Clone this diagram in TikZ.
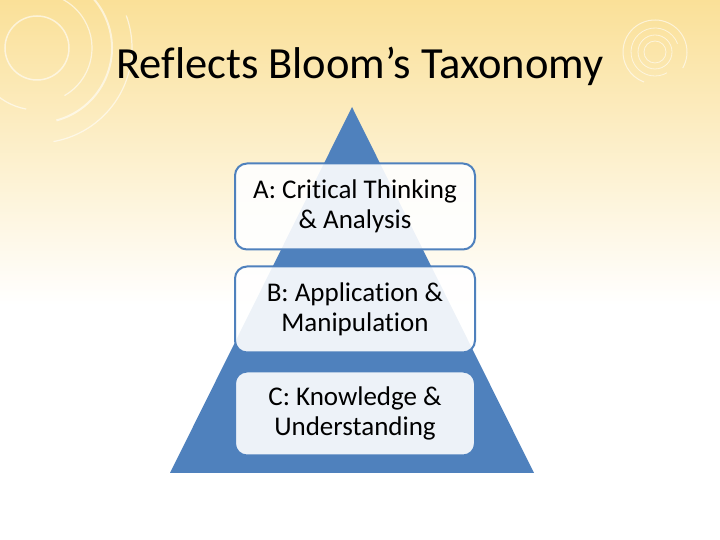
\documentclass[tikz,border=0pt]{standalone}
\usepackage{fontspec}
\setmainfont{Carlito}[Ligatures=NoCommon]
\usepackage{tikz}
\usetikzlibrary{positioning}

\definecolor{slideyellow}{RGB}{250,224,152}
\definecolor{paleyellow}{RGB}{253,240,204}
\definecolor{pyramidblue}{RGB}{79,129,189}

\begin{document}
\begin{tikzpicture}[x=1pt, y=1pt]
    \useasboundingbox (0,0) rectangle (720,540);

    % Background
    \fill[white] (0,0) rectangle (720,540);
    \shade[top color=slideyellow, middle color=paleyellow, bottom color=white] (0,235) rectangle (720,540);

    % Rings top left
    \begin{scope}[white, opacity=0.6]
        \draw[line width=1.5pt] (37,492) circle (32);
        \draw[line width=1.2pt] (37,492) ++(-60:55) arc (-60:80:55);
        \draw[line width=2pt] (37,492) ++(-75:75) arc (-75:60:75);
        \draw[line width=1.2pt] (37,492) ++(-80:95) arc (-80:20:95);
        \draw[line width=1.2pt] (37,492) ++(160:62) arc (160:260:62);
    \end{scope}

    % Rings top right
    \begin{scope}[white, opacity=0.6]
        \draw[line width=0.8pt] (655,488) circle (11);
        \draw[line width=0.8pt] (655,488) circle (17);
        \draw[line width=0.8pt] (655,488) ++(20:24) arc (20:300:24);
        \draw[line width=1pt] (655,488) ++(-30:32) arc (-30:250:32);
    \end{scope}

    % Title
    \node[anchor=base, font=\fontsize{44.5}{52}\selectfont] (title) at (360,461) {Reflects Bloom’s Taxonomy};

    % Pyramid
    \fill[pyramidblue] (352,433) -- (534,67) -- (170,67) -- cycle;

    % Levels
    \tikzset{level/.style={draw=pyramidblue, line width=2pt, rounded corners=12pt,
        fill=white, fill opacity=0.9, text opacity=1, align=center,
        minimum width=240, minimum height=86,
        font=\fontsize{27}{30}\selectfont}}
    \node[level] (critical) at (355,333.5) {A: Critical Thinking\\\& Analysis};
    \node[level, below=15pt of critical] (application) {B: Application \&\\Manipulation};
    \node[level, minimum height=84, below=17pt of application] (knowledge) {C: Knowledge \&\\Understanding};
\end{tikzpicture}
\end{document}
